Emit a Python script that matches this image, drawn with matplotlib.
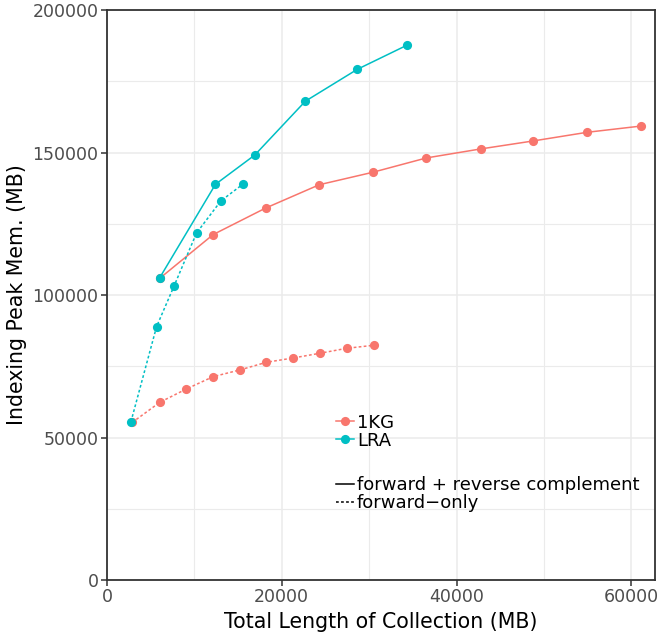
import matplotlib
matplotlib.use("Agg")
import matplotlib.pyplot as plt
from matplotlib.lines import Line2D
from matplotlib.ticker import MultipleLocator

# 1KG, forward + reverse complement
kg_fr_x = [6100, 12150, 18150, 24300, 30400, 36550, 42750, 48750, 54950, 61150]
kg_fr_y = [106000, 121200, 130500, 138700, 143050, 148100, 151250, 154050, 157100, 159300]
# 1KG, forward-only
kg_f_x = [2900, 6050, 9070, 12150, 15200, 18250, 21300, 24350, 27430, 30500]
kg_f_y = [55300, 62350, 67000, 71350, 73700, 76400, 77900, 79550, 81300, 82350]
# LRA, forward + reverse complement
lra_fr_x = [6050, 12420, 16910, 22700, 28650, 34290]
lra_fr_y = [106100, 138850, 149100, 168000, 179200, 187600]
# LRA, forward-only
lra_f_x = [2750, 5680, 7700, 10250, 13030, 15580]
lra_f_y = [55550, 88900, 103300, 121750, 133000, 138950]

RED = "#F8766D"
TEAL = "#00BFC4"
DOT = (0, (1.8, 1.5))

plt.rcParams["font.family"] = "DejaVu Sans"

fig = plt.figure(figsize=(6.6, 6.38), dpi=100)
ax = fig.add_axes([0.162, 0.0909, 0.8304, 0.8934])

style = dict(marker="o", markersize=6.6, linewidth=1.1, markeredgewidth=0)
ax.plot(kg_fr_x, kg_fr_y, color=RED, linestyle="-", **style, zorder=3)
ax.plot(kg_f_x, kg_f_y, color=RED, linestyle=DOT, **style, zorder=3)
ax.plot(lra_fr_x, lra_fr_y, color=TEAL, linestyle="-", **style, zorder=4)
ax.plot(lra_f_x, lra_f_y, color=TEAL, linestyle=DOT, **style, zorder=4)

ax.set_xlim(0, 62700)
ax.set_ylim(0, 200000)
ax.xaxis.set_major_locator(MultipleLocator(20000))
ax.xaxis.set_minor_locator(MultipleLocator(10000))
ax.yaxis.set_major_locator(MultipleLocator(50000))
ax.yaxis.set_minor_locator(MultipleLocator(25000))

ax.grid(True, which="major", color="#EBEBEB", linewidth=1.1)
ax.grid(True, which="minor", color="#EBEBEB", linewidth=0.8)
ax.set_axisbelow(True)

for s in ax.spines.values():
    s.set_color("#333333")
    s.set_linewidth(1.3)
ax.tick_params(which="major", length=4, width=1.1, color="#333333",
               labelcolor="#4D4D4D", labelsize=12.5, pad=2)
ax.tick_params(which="minor", length=0)

ax.set_xlabel("Total Length of Collection (MB)", fontsize=14.8, labelpad=4)
ax.set_ylabel("Indexing Peak Mem. (MB)", fontsize=14.8, labelpad=4)

col_handles = [
    Line2D([], [], color=RED, marker="o", markersize=6.6, linewidth=1.1, markeredgewidth=0),
    Line2D([], [], color=TEAL, marker="o", markersize=6.6, linewidth=1.1, markeredgewidth=0),
]
leg1 = ax.legend(col_handles, ["1KG", "LRA"], loc="upper left",
                 bbox_to_anchor=(0.418, 0.292), frameon=False, fontsize=13,
                 handlelength=1.0, handletextpad=0.15, labelspacing=0.0,
                 borderpad=0, borderaxespad=0)
ax.add_artist(leg1)

lt_handles = [
    Line2D([], [], color="black", linestyle="-", linewidth=1.1),
    Line2D([], [], color="black", linestyle=DOT, linewidth=1.1),
]
ax.legend(lt_handles, ["forward + reverse complement", "forward\u2212only"],
          loc="upper left", bbox_to_anchor=(0.418, 0.182), frameon=False,
          fontsize=13, handlelength=1.0, handletextpad=0.15, labelspacing=0.0,
          borderpad=0, borderaxespad=0)

fig.savefig("out.png", dpi=100)
